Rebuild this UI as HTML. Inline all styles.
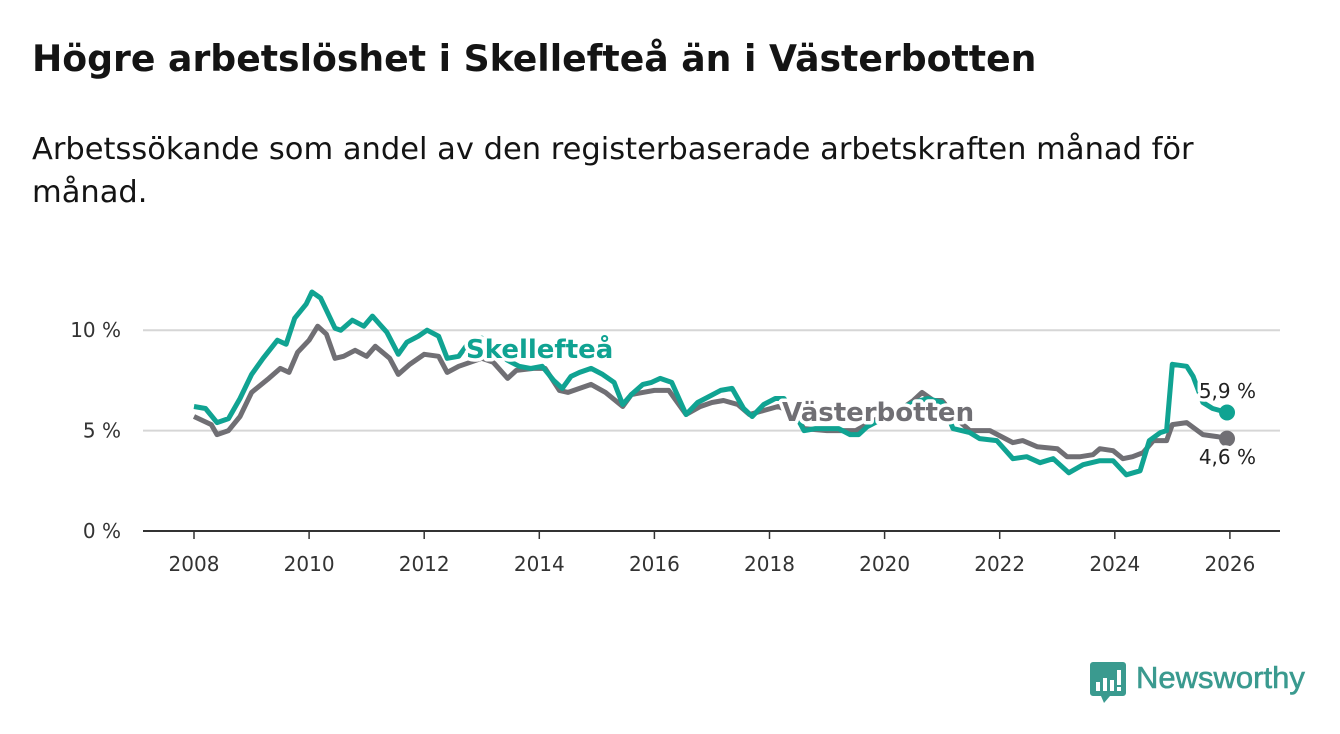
<!DOCTYPE html>
<html><head><meta charset="utf-8"><style>
body{margin:0;background:#fff;width:1340px;height:734px;overflow:hidden;font-family:"DejaVu Sans",sans-serif}
#title{position:absolute;left:32px;top:37px;font-size:36.2px;font-weight:bold;color:#141414;margin:0;white-space:nowrap}
#sub{position:absolute;left:32px;top:128px;font-size:30.5px;line-height:43px;color:#141414;width:1200px}
svg{position:absolute;left:0;top:0}
</style></head><body>
<h1 id="title">Högre arbetslöshet i Skellefteå än i Västerbotten</h1>
<div id="sub">Arbetssökande som andel av den registerbaserade arbetskraften månad för månad.</div>
<svg id="chart" width="1340" height="734"></svg>
<div style="position:absolute;left:1090px;top:662px;">
<svg width="36" height="42" style="position:absolute;left:0;top:0"><path d="M3 0h30a3 3 0 0 1 3 3v28a3 3 0 0 1-3 3H20l-6 7-3-7H3a3 3 0 0 1-3-3V3a3 3 0 0 1 3-3z" fill="#3a9a8f"/><rect x="6" y="20" width="4" height="9" fill="#fff"/><rect x="13" y="16" width="4" height="13" fill="#fff"/><rect x="20" y="18" width="4" height="11" fill="#fff"/><rect x="27" y="8" width="4" height="15" fill="#fff"/><rect x="27" y="25" width="4" height="4" fill="#fff"/></svg>
<span style="position:absolute;left:46px;top:-2px;font-family:'Liberation Sans',sans-serif;font-size:31px;color:#3a9a8f;font-weight:normal;white-space:nowrap;-webkit-text-stroke:0.6px #3a9a8f">Newsworthy</span></div>
<script>
const yearTicks=[2008,2010,2012,2014,2016,2018,2020,2022,2024,2026];
const yTicks=[0,5,10];
const yTickLabels=["0 %","5 %","10 %"];
const skelX=[2008.0,2008.2,2008.4,2008.6,2008.8,2009.0,2009.2,2009.45,2009.6,2009.75,2009.95,2010.05,2010.2,2010.45,2010.55,2010.75,2010.95,2011.1,2011.35,2011.55,2011.7,2011.9,2012.05,2012.25,2012.4,2012.6,2012.75,2013.0,2013.2,2013.45,2013.65,2013.85,2014.05,2014.25,2014.4,2014.55,2014.7,2014.9,2015.1,2015.3,2015.45,2015.6,2015.8,2015.95,2016.1,2016.3,2016.55,2016.75,2016.95,2017.15,2017.35,2017.55,2017.7,2017.9,2018.1,2018.25,2018.45,2018.6,2018.8,2019.0,2019.2,2019.4,2019.55,2019.7,2019.9,2020.2,2020.5,2020.75,2021.0,2021.19,2021.48,2021.65,2021.95,2022.23,2022.47,2022.7,2022.93,2023.2,2023.45,2023.74,2023.97,2024.2,2024.44,2024.6,2024.79,2024.9,2025.0,2025.25,2025.36,2025.53,2025.7,2025.95];
const skelV=[6.2,6.1,5.4,5.6,6.6,7.8,8.6,9.5,9.3,10.6,11.3,11.9,11.6,10.1,10.0,10.5,10.2,10.7,9.9,8.8,9.4,9.7,10.0,9.7,8.6,8.7,9.3,9.6,9.1,8.5,8.2,8.1,8.2,7.5,7.1,7.7,7.9,8.1,7.8,7.4,6.3,6.8,7.3,7.4,7.6,7.4,5.8,6.4,6.7,7.0,7.1,6.1,5.7,6.3,6.6,6.6,5.8,5.0,5.1,5.1,5.1,4.8,4.8,5.2,5.5,6.0,6.4,6.6,6.4,5.1,4.9,4.6,4.5,3.6,3.7,3.4,3.6,2.9,3.3,3.5,3.5,2.8,3.0,4.5,4.9,5.0,8.3,8.2,7.7,6.4,6.1,5.9];
const vbX=[2008.0,2008.3,2008.4,2008.6,2008.8,2009.0,2009.3,2009.5,2009.65,2009.8,2010.0,2010.15,2010.3,2010.45,2010.6,2010.8,2011.0,2011.15,2011.4,2011.55,2011.75,2012.0,2012.25,2012.4,2012.6,2012.8,2013.0,2013.2,2013.45,2013.6,2013.9,2014.1,2014.35,2014.5,2014.7,2014.9,2015.15,2015.45,2015.6,2015.8,2016.0,2016.25,2016.55,2016.8,2017.0,2017.2,2017.45,2017.65,2017.9,2018.15,2018.4,2018.6,2019.0,2019.5,2019.75,2020.0,2020.25,2020.5,2020.65,2020.85,2021.0,2021.25,2021.48,2021.83,2022.23,2022.4,2022.65,2023.0,2023.17,2023.4,2023.62,2023.74,2023.97,2024.14,2024.31,2024.49,2024.67,2024.9,2025.0,2025.25,2025.53,2025.78,2025.95];
const vbV=[5.7,5.3,4.8,5.0,5.7,6.9,7.6,8.1,7.9,8.9,9.5,10.2,9.8,8.6,8.7,9.0,8.7,9.2,8.6,7.8,8.3,8.8,8.7,7.9,8.2,8.4,8.6,8.4,7.6,8.0,8.1,8.1,7.0,6.9,7.1,7.3,6.9,6.2,6.8,6.9,7.0,7.0,5.8,6.2,6.4,6.5,6.3,5.8,6.0,6.2,5.9,5.1,5.0,5.0,5.4,5.8,6.0,6.5,6.9,6.5,6.5,5.6,5.0,5.0,4.4,4.5,4.2,4.1,3.7,3.7,3.8,4.1,4.0,3.6,3.7,3.9,4.5,4.5,5.3,5.4,4.8,4.7,4.6];
const NS="http://www.w3.org/2000/svg";
const svg=document.getElementById('chart');
const xs=y=>194+(y-2008)*57.55;
const ys=v=>531-v*20.08;
function mk(t,a,p){const e=document.createElementNS(NS,t);for(const k in a)e.setAttribute(k,a[k]);(p||svg).appendChild(e);return e;}
yTicks.forEach((t,i)=>{
 const l=mk('line',{x1:143,x2:1280,y1:ys(t),y2:ys(t),stroke:t===0?'#333':'#d6d6d6','stroke-width':2});
 
 
 const tx=mk('text',{x:121,y:ys(t)+7,'text-anchor':'end','font-size':20,fill:'#333'});
 tx.textContent=yTickLabels[i];
 
 
});
yearTicks.forEach(t=>{
 const l=mk('line',{x1:xs(t),x2:xs(t),y1:531,y2:539,stroke:'#333','stroke-width':1.5});
 
 
 const tx=mk('text',{x:xs(t),y:571,'text-anchor':'middle','font-size':20,fill:'#333'});
 tx.textContent=t;
 
 
});
function line(X,V,c,name){
 const d=X.map((x,i)=>(i?'L':'M')+xs(x).toFixed(1)+' '+ys(V[i]).toFixed(1)).join('');
 const p=mk('path',{d:d,fill:'none',stroke:c,'stroke-width':5,'stroke-linejoin':'round'});
 
 
 const n=X.length-1;
 const c2=mk('circle',{cx:xs(X[n]),cy:ys(V[n]),r:8,fill:c});
 
 
}
line(vbX,vbV,'#706f74','vasterbotten');
line(skelX,skelV,'#10a392','skelleftea');
function lab(txt,x,y,c,sz,w,name,anchor){
 const t=mk('text',{x:x,y:y,'font-size':sz,'font-weight':w,fill:c,stroke:'#fff','stroke-width':7,'paint-order':'stroke','stroke-linejoin':'round','text-anchor':anchor||'start'});
 t.textContent=txt;
 
 
}
lab('Skellefteå',466,358,'#10a392',26,'bold','skelleftea-label');
lab('Västerbotten',782,421,'#706f74',26,'bold','vasterbotten-label');
lab('5,9 %',1256,398,'#222',20,'normal','skelleftea-value-label','end');
lab('4,6 %',1256,464,'#222',20,'normal','vasterbotten-value-label','end');
</script>
</body></html>
